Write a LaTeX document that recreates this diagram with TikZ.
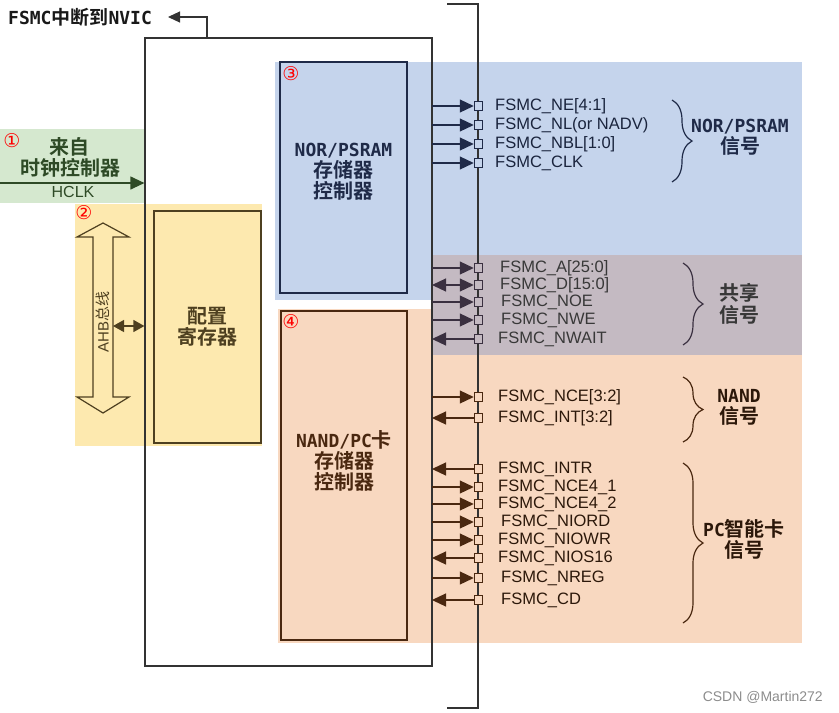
\documentclass[tikz,border=0pt]{standalone}
\usepackage{fontspec}
\setmainfont{Liberation Sans}
\newfontfamily\cjk{Noto Sans CJK SC}[BoldFont={Noto Sans CJK SC Bold}]
\newfontfamily\hmono{DejaVu Sans Mono}
\newfontfamily\djv{DejaVu Sans}
\usetikzlibrary{arrows.meta,decorations.pathreplacing}
\definecolor{bgGreen}{HTML}{D5E8CF}
\definecolor{bgYellow}{HTML}{FDE9AF}
\definecolor{bgBlue}{HTML}{C5D4EC}
\definecolor{bgOrange}{HTML}{F8D8C0}
\definecolor{bgGray}{HTML}{C4BAC2}
\definecolor{cNavy}{HTML}{1F2A48}
\definecolor{cGrayD}{HTML}{3A3040}
\definecolor{cBrown}{HTML}{4A2810}
\definecolor{cOlive}{HTML}{4E4020}
\definecolor{cGreenD}{HTML}{2E4A26}
\definecolor{cLine}{HTML}{333333}
\newcommand{\mylat}[1]{{\hmono\bfseries\fontsize{18}{21}\selectfont #1}}
\begin{document}
\begin{tikzpicture}[x=1pt,y=-1pt,
  heading/.style={font=\cjk\bfseries\fontsize{20}{21}\selectfont, align=center, inner sep=0pt},
  circnum/.style={text=red, font=\djv\fontsize{19}{20}\selectfont, inner sep=0pt},
  sig/.style={font=\fontsize{16.5}{18}\selectfont, anchor=west, inner sep=0pt},
  sq/.style={draw, minimum size=8.5pt, inner sep=0pt, line width=1pt},
  sigR/.style={arrows={-Triangle[length=14pt,width=13pt]}},
  sigL/.style={arrows={Triangle[length=14pt,width=13pt]-}},
  sigB/.style={arrows={Triangle[length=14pt,width=13pt]-Triangle[length=14pt,width=13pt]}},
  brc/.style={decorate, decoration={brace, amplitude=20pt}, line width=1.2pt},
  ctrl/.style={line width=2pt, minimum width=127pt, inner sep=0pt}
]
\useasboundingbox (0,0) rectangle (839,713);
% background regions
\fill[bgGreen] (0,129) rectangle (145,203);
\fill[bgYellow] (75,204) rectangle (262,446);
\fill[bgBlue] (275,62) rectangle (802,255);
\fill[bgBlue] (275,255) rectangle (432,300);
\fill[bgOrange] (278,309) rectangle (802,643);
\fill[bgGray] (432,255) rectangle (802,355);

% main FSMC box
\node[draw=cLine, line width=1.2pt, minimum width=287pt, minimum height=628pt, inner sep=0pt] (fsmc) at (288.5,352) {};

% title and NVIC arrow
\node[anchor=west, inner sep=0pt, text=black!90] (title) at (8,17) {\mylat{FSMC}{\cjk\bfseries\fontsize{19}{21}\selectfont 中断到}\mylat{NVIC}};
\coordinate (nv) at (207,38);
\coordinate (nvT) at (168,17);
\draw[cLine, line width=1.2pt, -{Triangle[length=12pt,width=11pt]}] (nv) |- (nvT);

% external bus line
\coordinate (busT0) at (447,4);
\coordinate (busT) at (478,4);
\coordinate (busB) at (478,708);
\coordinate (busB0) at (447,708);
\draw[cLine, line width=1.2pt] (busT0) -- (busT) -- (busB) -- (busB0);

% region 1: clock
\node[circnum] (n1) at (12,141) {①};
\node[heading, text=cGreenD] (laizi) at (69,147) {来自};
\node[heading, text=cGreenD] (clkctl) at (70,168) {时钟控制器};
\node[text=cGreenD, font=\fontsize{16}{18}\selectfont, inner sep=0pt] (hclk) at (73,192) {HCLK};
\coordinate (clk0) at (0,183);
\draw[cGreenD, line width=1.2pt, -{Triangle[length=14pt,width=13pt]}] (clk0) -- (clk0 -| fsmc.west);

% region 2: AHB and config registers
\node[circnum] (n2) at (84,213) {②};
\filldraw[fill=bgYellow, draw=cOlive, line width=1.2pt]
  (103,223) -- (129,237) -- (113,237) -- (113,397) -- (129,397) -- (103,413)
  -- (77,397) -- (93,397) -- (93,237) -- (77,237) -- cycle;
\node[rotate=90, text=cOlive, font=\fontsize{15}{16}\selectfont, inner sep=0pt] (ahb) at (103,322) {AHB{\cjk 总线}};
\coordinate (ahbR) at (113,326);
\draw[cOlive, line width=1.2pt, arrows={Triangle[length=11pt,width=12pt]-Triangle[length=11pt,width=12pt]}] (ahbR) -- (ahbR -| fsmc.west);
\node[draw=cOlive, line width=2pt, fill=bgYellow, minimum width=107pt, minimum height=232pt, inner sep=0pt,
  text=cOlive, font=\cjk\bfseries\fontsize{20}{21}\selectfont, align=center] (cfg) at (207.5,327) {配置\\寄存器};

% region 3: NOR/PSRAM controller
\node[ctrl, draw=cNavy, minimum height=231pt] (norc) at (343.5,177.5) {};
\node[circnum] (n3) at (291,74) {③};
\node[heading, text=cNavy] (nort) at (343.5,172) {\mylat{NOR/PSRAM}\\存储器\\控制器};

% region 4: NAND/PC card controller
\node[ctrl, draw=cBrown, minimum width=126pt, minimum height=329pt] (nandc) at (344,475.5) {};
\node[circnum] (n4) at (291,322) {④};
\node[heading, text=cBrown] (nandt) at (344,461) {\mylat{NAND/PC}卡\\存储器\\控制器};

% signals
\foreach \nm/\yy/\st/\tx/\txt in {
  ne/106/sigR/495/{FSMC\_NE[4:1]},
  nl/125/sigR/495/{FSMC\_NL(or NADV)},
  nbl/144/sigR/495/{FSMC\_NBL[1:0]},
  clk/163/sigR/495/{FSMC\_CLK}}{
  \coordinate (\nm-l) at (432,\yy);
  \node[sq, draw=cNavy, fill=bgBlue] (\nm-s) at (478.5,\yy) {};
  \node[sig, text=cNavy!85!black] (\nm-t) at (\tx,\yy) {\txt};
  \draw[\st, cNavy, line width=1.2pt] (\nm-l) -- (\nm-s.west);
}
\foreach \nm/\yy/\st/\tx/\txt in {
  a/268/sigR/500/{FSMC\_A[25:0]},
  d/285/sigB/500/{FSMC\_D[15:0]},
  noe/302/sigR/501/{FSMC\_NOE},
  nwe/320/sigR/501/{FSMC\_NWE},
  nwait/339/sigL/498/{FSMC\_NWAIT}}{
  \coordinate (\nm-l) at (432,\yy);
  \node[sq, draw=cGrayD, fill=bgGray] (\nm-s) at (478.5,\yy) {};
  \node[sig, text=black!78] (\nm-t) at (\tx,\yy) {\txt};
  \draw[\st, cGrayD, line width=1.2pt] (\nm-l) -- (\nm-s.west);
}
\foreach \nm/\yy/\st/\tx/\txt in {
  nce/397/sigR/498/{FSMC\_NCE[3:2]},
  int/418/sigL/498/{FSMC\_INT[3:2]},
  intr/469/sigL/498/{FSMC\_INTR},
  ncea/487/sigR/498/{FSMC\_NCE4\_1},
  nceb/504/sigR/498/{FSMC\_NCE4\_2},
  niord/522/sigR/501/{FSMC\_NIORD},
  niowr/540/sigR/498/{FSMC\_NIOWR},
  nios/558/sigL/498/{FSMC\_NIOS16},
  nreg/578/sigR/501/{FSMC\_NREG},
  cd/600/sigL/501/{FSMC\_CD}}{
  \coordinate (\nm-l) at (432,\yy);
  \node[sq, draw=cBrown, fill=bgOrange] (\nm-s) at (478.5,\yy) {};
  \node[sig, text=cBrown!60!black] (\nm-t) at (\tx,\yy) {\txt};
  \draw[\st, cBrown, line width=1.2pt] (\nm-l) -- (\nm-s.west);
}

% braces and group labels
\coordinate (b1a) at (672,100); \coordinate (b1b) at (672,182);
\draw[brc, cNavy] (b1a) -- (b1b);
\node[heading, text=cNavy] (g1) at (740,137.5) {\mylat{NOR/PSRAM}\\信号};

\coordinate (b2a) at (683,263); \coordinate (b2b) at (683,345);
\draw[brc, cGrayD] (b2a) -- (b2b);
\node[heading, text=black!78, font=\cjk\bfseries\fontsize{20}{22}\selectfont] (g2) at (739,304) {共享\\信号};

\coordinate (b3a) at (683,377); \coordinate (b3b) at (683,442);
\draw[brc, cBrown] (b3a) -- (b3b);
\node[heading, text=cBrown!60!black] (g3) at (739,407.5) {\mylat{NAND}\\信号};

\coordinate (b4a) at (683,463); \coordinate (b4b) at (683,623);
\draw[brc, cBrown] (b4a) -- (b4b);
\node[heading, text=cBrown!60!black] (g4) at (744,539) {\mylat{PC}智能卡\\信号};

% watermark
\node[anchor=east, inner sep=0pt, text=black!45, font=\fontsize{14}{16}\selectfont] (wm) at (823,697) {CSDN @Martin272};
\end{tikzpicture}
\end{document}
